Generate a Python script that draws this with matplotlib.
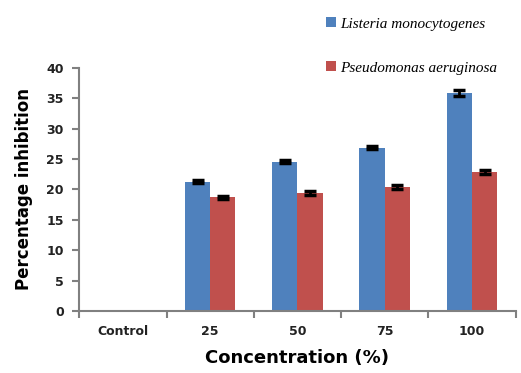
import numpy as np
import matplotlib
matplotlib.use("Agg")
import matplotlib.pyplot as plt

categories = ["Control", "25", "50", "75", "100"]
listeria = [0, 21.3, 24.6, 26.9, 35.8]
listeria_err = [0, 0.3, 0.3, 0.3, 0.5]
pseudo = [0, 18.7, 19.4, 20.4, 22.9]
pseudo_err = [0, 0.3, 0.3, 0.3, 0.3]

fig = plt.figure(figsize=(5.21, 3.73), dpi=100)
ax = fig.add_axes([0.152, 0.166, 0.838, 0.652])

x = np.arange(len(categories))
w = 0.29
b1 = ax.bar(x - w / 2, listeria, w, color="#4F81BD", label="Listeria monocytogenes")
b2 = ax.bar(x + w / 2, pseudo, w, color="#C0504D", label="Pseudomonas aeruginosa")
for i in range(1, len(x)):
    ax.errorbar(x[i] - w / 2, listeria[i], yerr=listeria_err[i], fmt="none",
                ecolor="black", elinewidth=2, capsize=4.5, capthick=2.5)
    ax.errorbar(x[i] + w / 2, pseudo[i], yerr=pseudo_err[i], fmt="none",
                ecolor="black", elinewidth=2, capsize=4.5, capthick=2.5)

ax.set_xlim(-0.5, len(x) - 0.5)
ax.set_ylim(0, 40)
ax.set_yticks(np.arange(0, 41, 5))
ax.set_xticks(x)
ax.set_xticklabels(categories)
ax.set_xticks(np.arange(-0.5, len(x), 1), minor=True)
ax.tick_params(axis="x", which="major", length=0, pad=10)
ax.tick_params(axis="x", which="minor", length=5, width=1.5, color="#808080", direction="out")
ax.tick_params(axis="y", length=5, width=1.5, color="#808080", direction="out", pad=6)
for lab in ax.get_xticklabels() + ax.get_yticklabels():
    lab.set_fontsize(9)
    lab.set_fontweight("bold")
    lab.set_color("#222222")

for s in ["top", "right"]:
    ax.spines[s].set_visible(False)
for s in ["left", "bottom"]:
    ax.spines[s].set_color("#808080")
    ax.spines[s].set_linewidth(1.5)

ax.set_ylabel("Percentage inhibition", fontsize=12, fontweight="bold", labelpad=10)
ax.set_xlabel("Concentration (%)", fontsize=13, fontweight="bold", labelpad=8)

fig.legend(handles=[b1, b2], loc="upper left", bbox_to_anchor=(0.6, 0.99),
           frameon=False, handlelength=0.6, handleheight=0.6, handletextpad=0.3,
           labelspacing=2.0,
           prop={"family": "Liberation Serif", "style": "italic", "size": 11})

fig.savefig("out.png", dpi=100)
